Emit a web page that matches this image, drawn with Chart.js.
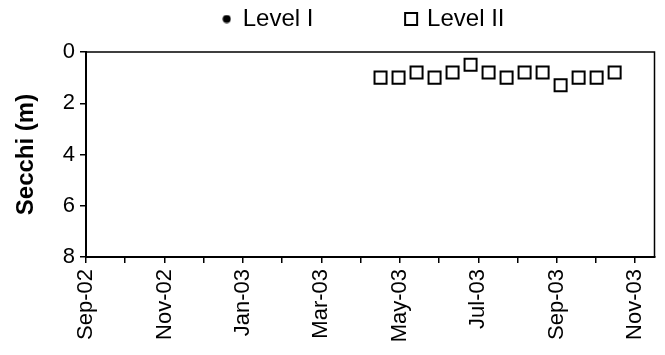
<!DOCTYPE html>
<html>
<head>
<meta charset="utf-8">
<script src="https://cdn.jsdelivr.net/npm/chart.js@4.4.0/dist/chart.umd.min.js"></script>
<style>
  html, body { margin: 0; padding: 0; background: #fff; }
  #wrap { width: 665px; height: 355px; }
</style>
</head>
<body>
<div id="wrap"><canvas id="chart" width="665" height="355"></canvas></div>
<script>
// sampling dates and Secchi depth (m)
var dates = ["2003-04-18", "2003-05-02", "2003-05-16", "2003-05-30", "2003-06-13", "2003-06-27", "2003-07-11",
             "2003-07-25", "2003-08-08", "2003-08-22", "2003-09-05", "2003-09-19", "2003-10-03", "2003-10-17"];
var levelII = [1.0, 1.0, 0.8, 1.0, 0.8, 0.5, 0.8, 1.0, 0.8, 0.8, 1.3, 1.0, 1.0, 0.8];
var levelI = [];
var tickLabels = ["Sep-02", "Nov-02", "Jan-03", "Mar-03", "May-03", "Jul-03", "Sep-03", "Nov-03"];
var yTicks = [0, 2, 4, 6, 8];

var start = Date.UTC(2002, 8, 1);
function dayNum(s) {
    var p = s.split('-');
    return (Date.UTC(+p[0], +p[1] - 1, +p[2]) - start) / 86400000;
}
var font = "'Liberation Sans', Arial, sans-serif";

// little legend markers
function marker(kind) {
    var c = document.createElement('canvas');
    var ctx = c.getContext('2d');
    if (kind == 'dot') {
        c.width = 9; c.height = 9;
        ctx.fillStyle = '#000';
        ctx.beginPath(); ctx.arc(4.5, 4.5, 4, 0, Math.PI * 2); ctx.fill();
    } else {
        c.width = 16; c.height = 16;
        ctx.strokeStyle = '#000'; ctx.lineWidth = 2;
        ctx.strokeRect(2, 2, 12, 12);
    }
    return c;
}
var dot = marker('dot'), box = marker('box');

// box around the plot
var frame = {
    id: 'frame',
    afterDatasetsDraw: function (chart) {
        var a = chart.chartArea, ctx = chart.ctx;
        ctx.save();
        ctx.strokeStyle = '#000';
        ctx.lineWidth = 1.5;
        ctx.beginPath();
        ctx.moveTo(a.left, a.top); ctx.lineTo(a.right, a.top); ctx.lineTo(a.right, a.bottom);
        ctx.stroke();
        ctx.restore();
    }
};

// extra room under the legend
var legendGap = {
    id: 'legendGap',
    beforeInit: function (chart) {
        var fit = chart.legend.fit;
        chart.legend.fit = function () {
            fit.bind(chart.legend)();
            this.height += 11;
        };
    }
};

var myChart = new Chart(document.getElementById('chart'), {
    type: 'scatter',
    data: {
        datasets: [{
            label: 'Level I',
            data: levelI,
            pointStyle: 'circle',
            backgroundColor: '#000',
            borderColor: '#000'
        }, {
            label: 'Level II',
            data: dates.map(function (d, i) { return { x: dayNum(d), y: levelII[i] }; }),
            pointStyle: 'rect',
            pointRadius: 8.5,
            pointHoverRadius: 8.5,
            borderWidth: 2,
            backgroundColor: 'rgba(255,255,255,0)',
            borderColor: '#000'
        }]
    },
    options: {
        responsive: false,
        animation: false,
        layout: { padding: { left: 12, right: 4, top: 0, bottom: 0 } },
        plugins: {
            tooltip: { enabled: false },
            legend: {
                position: 'top',
                fullSize: false,
                labels: {
                    usePointStyle: true,
                    boxWidth: 8,
                    boxHeight: 10,
                    padding: 7,
                    color: '#000',
                    font: { family: font, size: 24 },
                    generateLabels: function (chart) {
                        return [
                            { text: 'Level I             ', pointStyle: dot, datasetIndex: 0, lineWidth: 0, fontColor: '#000' },
                            { text: 'Level II  ', pointStyle: box, datasetIndex: 1, lineWidth: 0, fontColor: '#000' }
                        ];
                    }
                }
            }
        },
        scales: {
            x: {
                type: 'linear',
                min: 0,
                max: 442,
                afterBuildTicks: function (s) {
                    var t = [];
                    for (var i = 0; i <= 14; i++) t.push({ value: i * 30.5 });
                    s.ticks = t;
                },
                afterFit: function (s) { s.height = 98; s.paddingLeft = 0; s.paddingRight = 0; },
                ticks: {
                    autoSkip: false,
                    maxRotation: 90,
                    minRotation: 90,
                    color: '#000',
                    padding: 6,
                    font: { family: font, size: 22 },
                    callback: function (v) {
                        var k = v / 61;
                        return Math.abs(k - Math.round(k)) < 1e-6 ? tickLabels[Math.round(k)] : '';
                    }
                },
                grid: { drawOnChartArea: false, drawTicks: true, tickLength: 6, color: '#000', lineWidth: 1.5 },
                border: { color: '#000', width: 2 }
            },
            y: {
                reverse: true,
                min: 0,
                max: 8,
                afterBuildTicks: function (s) {
                    s.ticks = yTicks.map(function (v) { return { value: v }; });
                },
                afterFit: function (s) { s.width = 74; },
                ticks: {
                    color: '#000',
                    padding: 5,
                    font: { family: font, size: 22 }
                },
                grid: { drawOnChartArea: false, drawTicks: true, tickLength: 6, color: '#000', lineWidth: 1.5 },
                border: { color: '#000', width: 2 },
                title: {
                    display: true,
                    text: 'Secchi (m)',
                    color: '#000',
                    padding: { top: 0, bottom: 0 },
                    font: { family: font, size: 24, weight: 'bold' }
                }
            }
        }
    },
    plugins: [frame, legendGap]
});
</script>
</body>
</html>
